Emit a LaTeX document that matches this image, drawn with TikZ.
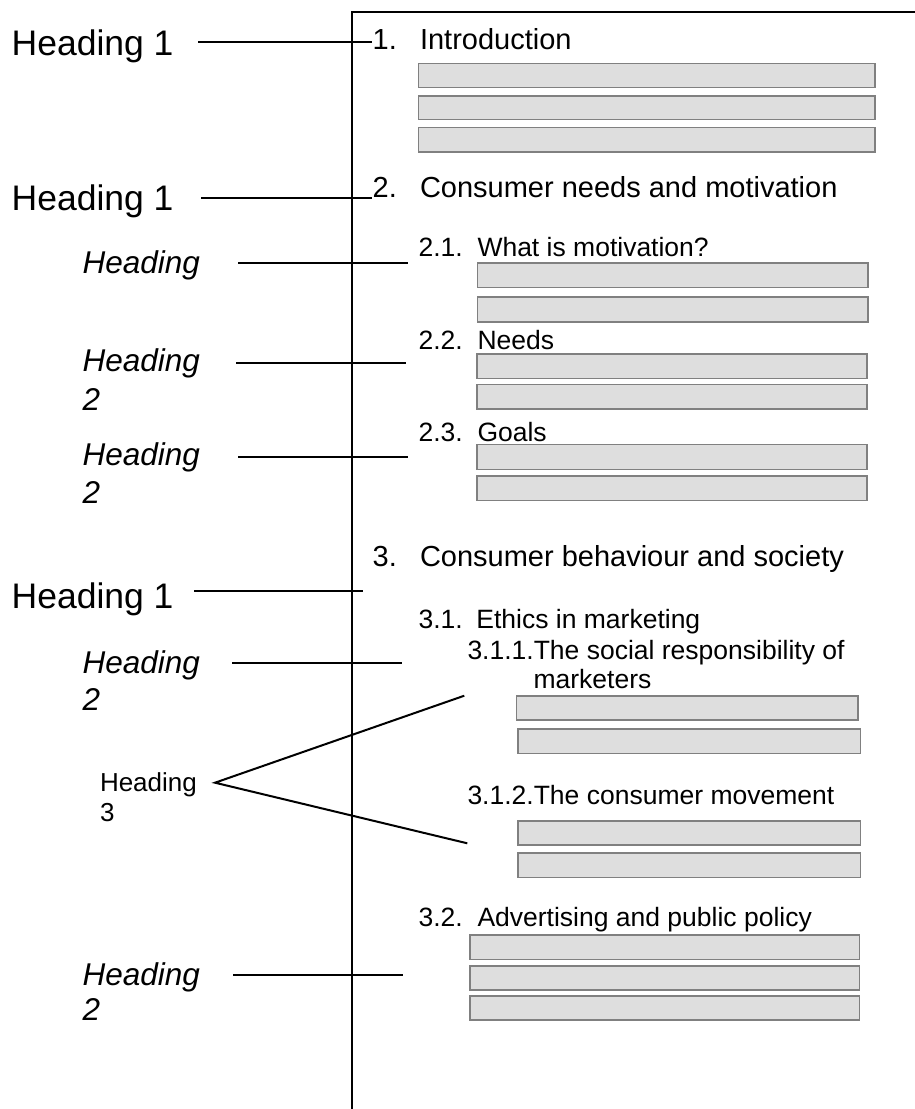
\documentclass[tikz,border=0pt]{standalone}
\usepackage{fontspec}
\setmainfont{Liberation Sans}
\begin{document}
\begin{tikzpicture}[x=1pt,y=-1pt,
  lbl/.style={anchor=base west, inner sep=0pt, outer sep=0pt},
  hone/.style={lbl, font=\fontsize{35.5}{40}\selectfont},
  htwo/.style={lbl, font=\fontsize{31.5}{36}\selectfont\itshape},
  hthree/.style={lbl, font=\fontsize{26}{30}\selectfont},
  tone/.style={lbl, font=\fontsize{29}{33}\selectfont},
  ttwo/.style={lbl, font=\fontsize{26.5}{30}\selectfont},
  bar/.style={draw=black!50, fill=black!13, line width=1.6pt},
  conn/.style={draw=black, line width=2pt},
  frame/.style={draw=black, line width=2pt}]
\useasboundingbox (0,0) rectangle (915,1109);
\fill[white] (0,0) rectangle (915,1109);

% page frame
\coordinate (ftr) at (915,11.7);
\coordinate (ftl) at (351.7,11.7);
\coordinate (fbl) at (351.7,1109);
\draw[frame] (ftr) -- (ftl) -- (fbl);

% right column: headings
\node[tone] (n1) at (372.7,49.3) {1.};
\node[tone] (t1) at (420,49.3) {Introduction};
\node[tone] (n2) at (372.7,197) {2.};
\node[tone] (t2) at (420,197) {Consumer needs and motivation};
\node[ttwo] (n21) at (418.6,256.7) {2.1.};
\node[ttwo] (t21) at (477.5,256.7) {What is motivation?};
\node[ttwo] (n22) at (418.6,349.3) {2.2.};
\node[ttwo] (t22) at (477.5,349.3) {Needs};
\node[ttwo] (n23) at (418.6,441) {2.3.};
\node[ttwo] (t23) at (477.5,441) {Goals};
\node[tone] (n3) at (372.7,566) {3.};
\node[tone] (t3) at (420,566) {Consumer behaviour and society};
\node[ttwo] (n31) at (418.6,628.3) {3.1.};
\node[ttwo] (t31) at (476.4,628.3) {Ethics in marketing};
\node[ttwo] (t311) at (467.5,659.3) {3.1.1.The social responsibility of};
\node[ttwo] (t311b) at (533.6,688.3) {marketers};
\node[ttwo] (t312) at (467.5,804) {3.1.2.The consumer movement};
\node[ttwo] (n32) at (418.6,926.7) {3.2.};
\node[ttwo] (t32) at (477.5,926.7) {Advertising and public policy};

% text bars
\draw[bar] (418.3,63.3) rectangle (875,87.3);
\draw[bar] (418.3,95.7) rectangle (875,119.3);
\draw[bar] (418.3,127.3) rectangle (875,151.7);
\draw[bar] (477.5,262.7) rectangle (868,287.3);
\draw[bar] (477.5,296.7) rectangle (868,321.7);
\draw[bar] (477,354) rectangle (867,378.3);
\draw[bar] (477,384.3) rectangle (867,408.7);
\draw[bar] (477,444.3) rectangle (867,469.3);
\draw[bar] (477,475.7) rectangle (867,500.3);
\draw[bar] (516.4,695.7) rectangle (858,720);
\draw[bar] (518,729) rectangle (860.4,753.3);
\draw[bar] (518,821) rectangle (860.4,845);
\draw[bar] (518,852.7) rectangle (860.4,877.3);
\draw[bar] (470,935) rectangle (859.4,959.3);
\draw[bar] (470,965.7) rectangle (859.4,990);
\draw[bar] (470,996) rectangle (859.4,1020);

% left column: style labels
\node[hone] (L1) at (11.7,55) {Heading 1};
\node[hone] (L2) at (11.7,210) {Heading 1};
\node[htwo] (L3) at (82.7,273.3) {Heading};
\node[htwo] (L4) at (82.7,371.7) {Heading};
\node[htwo] (L4b) at (82.7,410) {2};
\node[htwo] (L5) at (82.7,465) {Heading};
\node[htwo] (L5b) at (82.7,503) {2};
\node[hone] (L6) at (11.7,608.3) {Heading 1};
\node[htwo] (L7) at (82.7,673.3) {Heading};
\node[htwo] (L7b) at (82.7,710) {2};
\node[hthree] (L8) at (100,791.7) {Heading};
\node[hthree] (L8b) at (100,821.7) {3};
\node[htwo] (L9) at (82.7,985) {Heading};
\node[htwo] (L9b) at (82.7,1020.7) {2};

% connector end points
\coordinate (a1) at (198,41.7);   \coordinate (b1) at (371.7,41.7);
\coordinate (a2) at (201,198.3);  \coordinate (b2) at (371.7,198.3);
\coordinate (a3) at (238,262.7);  \coordinate (b3) at (407.7,262.7);
\coordinate (a4) at (236,363.3);  \coordinate (b4) at (405.7,363.3);
\coordinate (a5) at (238,457.3);  \coordinate (b5) at (407.7,457.3);
\coordinate (a6) at (194,591);    \coordinate (b6) at (363,591);
\coordinate (a7) at (232,663.3);  \coordinate (b7) at (401.7,663.3);
\coordinate (a8) at (215,782.7);
\coordinate (b8) at (464.3,695.7); \coordinate (c8) at (467.3,843.3);
\coordinate (a9) at (233.4,975);  \coordinate (b9) at (402.6,975);

\draw[conn] (a1) -- (b1);
\draw[conn] (a2) -- (b2);
\draw[conn] (a3) -- (b3);
\draw[conn] (a4) -- (b4);
\draw[conn] (a5) -- (b5);
\draw[conn] (a6) -- (b6);
\draw[conn] (a7) -- (b7);
\draw[conn] (b8) -- (a8) -- (c8);
\draw[conn] (a9) -- (b9);
\end{tikzpicture}
\end{document}
